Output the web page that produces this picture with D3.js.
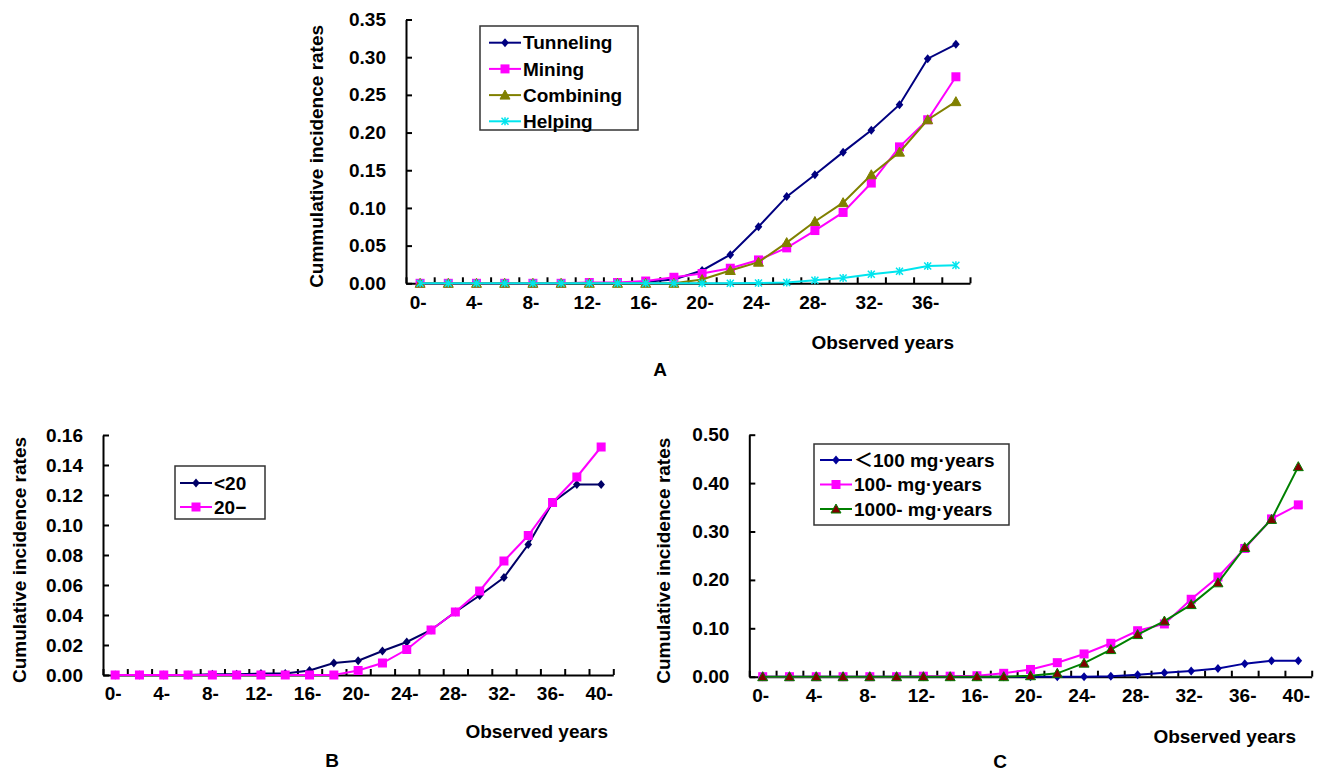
<!DOCTYPE html>
<html>
<head>
<meta charset="utf-8">
<script src="https://cdn.jsdelivr.net/npm/d3@7"></script>
<style>
  body { margin: 0; background: #fff; }
  svg text { font-family: "Liberation Sans", Arial, "Noto Sans CJK SC", sans-serif; font-weight: bold; font-size: 19px; fill: #000; }
</style>
</head>
<body>
<svg id="chart" width="1318" height="773"></svg>
<script>
// ---- data ----
// A: by type of work, 0- .. 38-
var catsA = ["0-","2-","4-","6-","8-","10-","12-","14-","16-","18-","20-","22-","24-","26-","28-","30-","32-","34-","36-","38-"];
var tunneling = [0,0,0,0,0,0,0,0,0.002,0.005,0.017,0.038,0.075,0.115,0.144,0.174,0.203,0.237,0.298,0.317];
var mining    = [0,0,0,0,0,0,0.001,0.001,0.003,0.008,0.013,0.020,0.031,0.047,0.070,0.094,0.133,0.181,0.217,0.274];
var combining = [0,0,0,0,0,0,0,0,0,0,0.005,0.017,0.028,0.054,0.082,0.107,0.144,0.174,0.217,0.241];
var helping   = [0,0,0,0,0,0,0,0,0,0,0,0,0.0005,0.001,0.004,0.007,0.012,0.016,0.023,0.024];
var ticksA = [0,0.05,0.10,0.15,0.20,0.25,0.30,0.35];

// B: by age at first exposure, 0- .. 40-
var catsB = ["0-","2-","4-","6-","8-","10-","12-","14-","16-","18-","20-","22-","24-","26-","28-","30-","32-","34-","36-","38-","40-"];
var under20 = [0,0,0,0,0.0005,0.0005,0.001,0.001,0.003,0.008,0.0095,0.016,0.022,0.030,0.042,0.053,0.065,0.087,0.115,0.127,0.127];
var over20  = [0,0,0,0,0,0,0,0,0,0,0.003,0.008,0.017,0.030,0.042,0.056,0.076,0.093,0.115,0.132,0.152];
var ticksB = [0,0.02,0.04,0.06,0.08,0.10,0.12,0.14,0.16];

// C: by cumulative dust exposure, 0- .. 40-
var catsC = catsB;
var dustLow  = [0,0,0,0,0,0,0,0,0,0,0,0,0,0.001,0.004,0.008,0.012,0.017,0.027,0.033,0.033];
var dustMid  = [0,0,0,0,0,0,0.001,0.001,0.002,0.007,0.015,0.029,0.047,0.069,0.095,0.109,0.160,0.206,0.265,0.326,0.355];
var dustHigh = [0,0,0,0,0,0,0,0,0,0,0.002,0.007,0.028,0.056,0.087,0.115,0.149,0.194,0.267,0.325,0.434];
var ticksC = [0,0.10,0.20,0.30,0.40,0.50];

var svg = d3.select("#chart");

function drawMarker(g, type, color, fill) {
    if (type == "diamond") {
        g.append("path").attr("d", "M0,-4.5L3.8,0L0,4.5L-3.8,0Z").attr("fill", color);
    } else if (type == "square") {
        g.append("rect").attr("x", -4.5).attr("y", -4.5).attr("width", 9).attr("height", 9).attr("fill", color);
    } else if (type == "triangle") {
        g.append("path").attr("d", "M0,-5L5,4L-5,4Z").attr("fill", fill || color).attr("stroke", color).attr("stroke-width", 1);
    } else if (type == "star") {
        g.append("path").attr("d", "M-3.5,-3.5L3.5,3.5M-3.5,3.5L3.5,-3.5M0,-4L0,4").attr("stroke", color).attr("stroke-width", 1.5);
    }
}

function drawPanel(p) {
    var g = svg.append("g");
    var x = d3.scaleBand().domain(p.cats).range([p.left, p.right]);
    var xi = d3.scaleLinear().domain([0, p.cats.length]).range([p.left, p.right]);
    var y = d3.scaleLinear().domain([0, p.ymax]).range([p.bottom, p.top]);

    // x: tick marks at band edges, pointing up
    g.append("g").attr("transform", "translate(0," + p.bottom + ")")
        .call(d3.axisBottom(xi).tickValues(d3.range(p.cats.length + 1)).tickSizeInner(-6).tickSizeOuter(0).tickFormat(""))
        .call(a => a.selectAll("path,line").attr("stroke", "#000").attr("stroke-width", 2));
    // x labels on every other category
    g.append("g").attr("transform", "translate(0," + p.bottom + ")")
        .call(d3.axisBottom(x).tickValues(p.cats.filter((d, i) => i % 2 == 0)).tickSize(0).tickPadding(12))
        .call(a => a.select(".domain").remove())
        .call(a => a.selectAll("text").attr("font-size", null).attr("font-family", null).attr("dx", -2));

    // y axis, ticks inward
    g.append("g").attr("transform", "translate(" + p.left + ",0)")
        .call(d3.axisLeft(y).tickValues(p.yticks).tickFormat(d3.format(".2f")).tickSizeInner(-6).tickSizeOuter(0).tickPadding(20))
        .call(a => a.selectAll("path,line").attr("stroke", "#000").attr("stroke-width", 2))
        .call(a => a.selectAll("text").attr("font-size", null).attr("font-family", null));

    var cx = d => x(d) + x.bandwidth() / 2;
    p.series.forEach(function(s) {
        var line = d3.line().x((d, i) => cx(p.cats[i])).y(d => y(d));
        g.append("path").datum(s.values).attr("d", line)
            .attr("fill", "none").attr("stroke", s.color).attr("stroke-width", 2);
        s.values.forEach(function(v, i) {
            var m = g.append("g").attr("transform", "translate(" + cx(p.cats[i]) + "," + y(v) + ")");
            drawMarker(m, s.marker, s.markerColor || s.color, s.markerFill);
        });
    });

    // titles
    g.append("text").attr("transform", "translate(" + p.ytitleX + "," + ((p.top + p.bottom) / 2 + 5) + ") rotate(-90)")
        .attr("text-anchor", "middle").attr("dy", "0.35em").text(p.ytitle);
    g.append("text").attr("x", p.xtitleX).attr("y", p.xtitleY).attr("text-anchor", "end").text("Observed years");
    g.append("text").attr("x", p.letterX).attr("y", p.letterY).attr("text-anchor", "middle").text(p.letter);

    // legend
    var L = p.legend;
    g.append("rect").attr("x", L.x).attr("y", L.y).attr("width", L.w).attr("height", L.h)
        .attr("fill", "#fff").attr("stroke", "#333").attr("stroke-width", 1.5);
    p.series.forEach(function(s, i) {
        var ly = L.y + L.first + i * L.step;
        var lg = g.append("g");
        lg.append("line").attr("x1", L.x + L.lineX0).attr("x2", L.x + L.lineX0 + 32).attr("y1", ly).attr("y2", ly)
            .attr("stroke", s.color).attr("stroke-width", 2);
        drawMarker(lg.append("g").attr("transform", "translate(" + (L.x + L.lineX0 + 16) + "," + ly + ")"), s.marker, s.markerColor || s.color, s.markerFill);
        lg.append("text").attr("x", L.x + L.lineX0 + 34).attr("y", ly).attr("dy", "0.35em").text(s.name);
    });
}

drawPanel({
    cats: catsA, left: 406, right: 970, top: 19.5, bottom: 283.3, ymax: 0.35, yticks: ticksA,
    ytitle: "Cummulative incidence rates", ytitleX: 316, xtitleX: 954, xtitleY: 349, letter: "A", letterX: 660, letterY: 376,
    legend: { x: 480, y: 26, w: 158, h: 104, first: 16.7, step: 26.2, lineX0: 9 },
    series: [
        { name: "Tunneling", values: tunneling, color: "#000080", marker: "diamond" },
        { name: "Mining", values: mining, color: "#ff00ff", marker: "square" },
        { name: "Combining", values: combining, color: "#808000", marker: "triangle" },
        { name: "Helping", values: helping, color: "#00e5ee", marker: "star" }
    ]
});

drawPanel({
    cats: catsB, left: 103, right: 613.3, top: 435, bottom: 675, ymax: 0.16, yticks: ticksB,
    ytitle: "Cumulative incidence rates", ytitleX: 19, xtitleX: 608, xtitleY: 738, letter: "B", letterX: 332, letterY: 767,
    legend: { x: 175, y: 466, w: 90, h: 53, first: 17, step: 24, lineX0: 5 },
    series: [
        { name: "<20", values: under20, color: "#000066", marker: "diamond" },
        { name: "20\u2212", values: over20, color: "#ff00ff", marker: "square" }
    ]
});

drawPanel({
    cats: catsC, left: 749.3, right: 1311.7, top: 434.7, bottom: 676.7, ymax: 0.50, yticks: ticksC,
    ytitle: "Cumulative incidence rates", ytitleX: 663, xtitleX: 1296, xtitleY: 743, letter: "C", letterX: 1000, letterY: 768,
    legend: { x: 814, y: 444, w: 195, h: 81, first: 16, step: 24.5, lineX0: 6 },
    series: [
        { name: "\uff1c100 mg\u00b7years", values: dustLow, color: "#000099", marker: "diamond" },
        { name: "100- mg\u00b7years", values: dustMid, color: "#ff00ff", marker: "square" },
        { name: "1000- mg\u00b7years", values: dustHigh, color: "#008000", marker: "triangle", markerFill: "#800000" }
    ]
});
</script>
</body>
</html>
